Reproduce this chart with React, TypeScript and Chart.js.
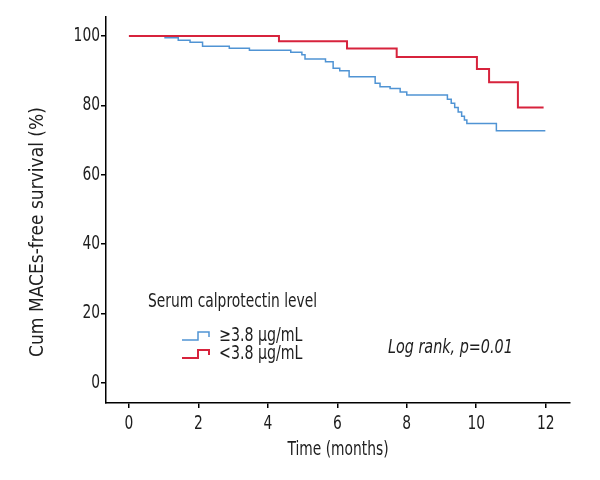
import React, { useEffect, useRef } from "react";
import { Chart, registerables } from "chart.js";

Chart.register(...registerables);

// ---- data ----
const xTicks = [0, 2, 4, 6, 8, 10, 12];
const yTicks = [0, 20, 40, 60, 80, 100];

const highTimes = [0, 1.04, 1.42, 1.76, 2.12, 2.89, 3.47, 4.66, 4.98, 5.07, 5.66, 5.88, 6.07, 6.34, 7.09, 7.23, 7.52, 7.81, 8.0, 9.17, 9.28, 9.38, 9.48, 9.58, 9.66, 9.73, 10.58, 11.99];
const highSurv = [100, 99.5, 98.8, 98.2, 97.1, 96.5, 95.9, 95.3, 94.6, 93.4, 92.6, 90.7, 90.0, 88.3, 86.4, 85.4, 84.9, 83.9, 83.0, 81.8, 80.6, 79.4, 78.1, 76.9, 75.8, 74.8, 72.7, 72.7];

const lowTimes = [0, 4.32, 6.28, 7.71, 10.02, 10.37, 11.2, 11.94];
const lowSurv = [100, 98.5, 96.4, 94.0, 90.5, 86.7, 79.4, 79.4];

const seriesLabels = ["\u22653.8 \u03bcg/mL", "<3.8 \u03bcg/mL"];
const seriesColors = ["#5094d4", "#d7233c"];
const legendTitle = "Serum calprotectin level";
const xTitle = "Time (months)";
const yTitle = "Cum MACEs-free survival (%)";
const annotation = "Log rank, p=0.01";

const FONT = "'Liberation Sans Narrow', 'DejaVu Sans Condensed', 'Arial Narrow', sans-serif";
const TEXT = "#1e1e1e";
const SQUEEZE = 0.81;

function squeezedText(
  ctx: CanvasRenderingContext2D,
  text: string,
  x: number,
  y: number,
  align: CanvasTextAlign,
  sx: number = SQUEEZE
) {
  ctx.save();
  ctx.translate(x, y);
  ctx.scale(sx, 1);
  ctx.textAlign = align;
  ctx.fillText(text, 0, 0);
  ctx.restore();
}

const overlay = {
  id: "overlay",
  afterDraw(chart: any) {
    const ctx = chart.ctx as CanvasRenderingContext2D;
    const xs = chart.scales.x;
    const ys = chart.scales.y;
    ctx.save();
    ctx.fillStyle = TEXT;
    ctx.font = `19px ${FONT}`;
    ctx.textBaseline = "middle";

    // tick labels (positions from the chart's scales)
    xTicks.forEach((v) => squeezedText(ctx, String(v), xs.getPixelForValue(v), 424, "center"));
    yTicks.forEach((v) => squeezedText(ctx, String(v), 100, ys.getPixelForValue(v), "right"));

    // y title
    ctx.save();
    ctx.translate(38, 232);
    ctx.rotate(-Math.PI / 2);
    ctx.textAlign = "center";
    ctx.fillText(yTitle, 0, 0);
    ctx.restore();

    // x title
    squeezedText(ctx, xTitle, 338, 450, "center");

    // legend
    squeezedText(ctx, legendTitle, 148, 302, "left");
    const rows = [336, 354];
    seriesLabels.forEach((lab, i) => {
      const y = rows[i];
      const ds = chart.data.datasets[i === 0 ? 1 : 0];
      ctx.strokeStyle = seriesColors[i];
      ctx.lineWidth = ds.borderWidth;
      ctx.beginPath();
      ctx.moveTo(182, y + 4);
      ctx.lineTo(198, y + 4);
      ctx.lineTo(198, y - 4);
      ctx.lineTo(209, y - 4);
      ctx.lineTo(209, y + 1);
      ctx.stroke();
      ctx.fillStyle = TEXT;
      squeezedText(ctx, lab, 219, y, "left", 0.83);
    });

    // annotation
    ctx.font = `italic 19px ${FONT}`;
    squeezedText(ctx, annotation, 388, 348, "left", 0.84);
    ctx.restore();
  },
};

export default function App() {
  const ref = useRef<HTMLCanvasElement | null>(null);

  useEffect(() => {
    if (!ref.current) return;
    const chart = new Chart(ref.current, {
      type: "line",
      data: {
        datasets: [
          {
            label: seriesLabels[1],
            data: lowTimes.map((t, i) => ({ x: t, y: lowSurv[i] })),
            borderColor: seriesColors[1],
            borderWidth: 2,
            stepped: "before",
            pointRadius: 0,
            fill: false,
            order: 0,
          },
          {
            label: seriesLabels[0],
            data: highTimes.map((t, i) => ({ x: t, y: highSurv[i] })),
            borderColor: seriesColors[0],
            borderWidth: 1.5,
            stepped: "before",
            pointRadius: 0,
            fill: false,
            order: 1,
          },
        ],
      },
      options: {
        animation: false,
        responsive: false,
        devicePixelRatio: 1,
        layout: { padding: { left: 0, right: 30, top: 17, bottom: 0 } },
        plugins: {
          legend: { display: false },
          tooltip: { enabled: false },
          title: { display: false },
        },
        scales: {
          x: {
            type: "linear",
            min: -0.66,
            max: 12.7,
            afterBuildTicks: (s: any) => {
              s.ticks = xTicks.map((v) => ({ value: v }));
            },
            afterFit: (s: any) => {
              s.height = 77;
            },
            grid: {
              display: true,
              drawOnChartArea: false,
              drawTicks: true,
              tickLength: 5,
              color: "#000",
              lineWidth: 1.5,
            },
            border: { display: true, color: "#000", width: 1.5 },
            ticks: {
              color: "rgba(0,0,0,0)",
              padding: 4,
              maxRotation: 0,
              font: { family: FONT, size: 19 },
            },
          },
          y: {
            type: "linear",
            min: -5.8,
            max: 105.5,
            afterBuildTicks: (s: any) => {
              s.ticks = yTicks.map((v) => ({ value: v }));
            },
            afterFit: (s: any) => {
              s.width = 106;
            },
            grid: {
              display: true,
              drawOnChartArea: false,
              drawTicks: true,
              tickLength: 5,
              color: "#000",
              lineWidth: 1.5,
            },
            border: { display: true, color: "#000", width: 1.5 },
            ticks: {
              color: "rgba(0,0,0,0)",
              padding: 2,
              font: { family: FONT, size: 19 },
            },
          },
        },
      },
      plugins: [overlay],
    });
    return () => chart.destroy();
  }, []);

  return (
    <div style={{ position: "absolute", left: 0, top: 0, width: 600, height: 480, background: "#fff" }}>
      <canvas ref={ref} width={600} height={480} style={{ width: 600, height: 480 }} />
    </div>
  );
}
